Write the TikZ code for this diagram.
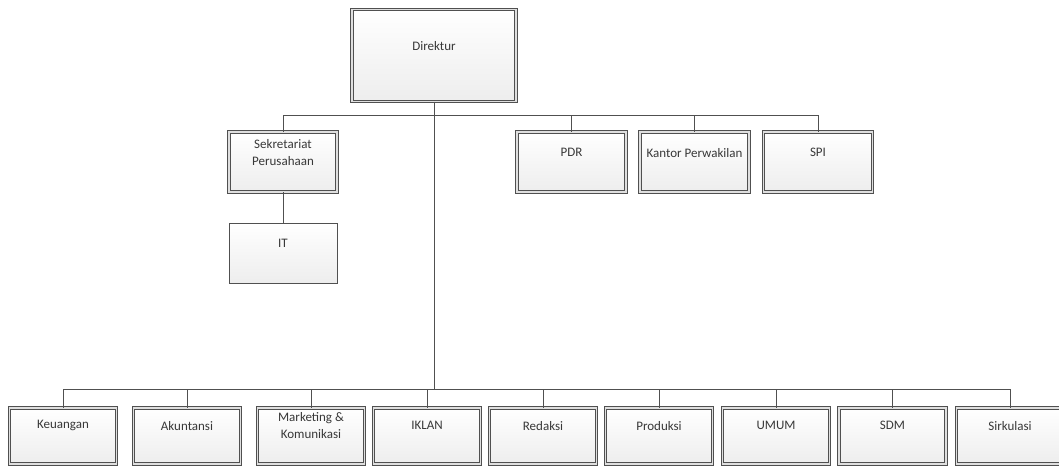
\documentclass[tikz,border=0pt]{standalone}
\usepackage{fontspec}
\setmainfont{Carlito}
\usepackage{tikz}
\usetikzlibrary{positioning}

\definecolor{linegray}{HTML}{505050}
\definecolor{textgray}{HTML}{383838}

\begin{document}
\begin{tikzpicture}[
    x=1pt, y=-1pt,
    font=\fontsize{13}{16.5}\selectfont,
    unit/.style={
        rectangle,
        draw=linegray,
        line width=0.9pt,
        double=gray!25,
        double distance=1.3pt,
        top color=white,
        bottom color=gray!14,
        inner sep=0pt
    },
    plainunit/.style={
        rectangle,
        draw=linegray,
        line width=1pt,
        top color=white,
        bottom color=gray!14,
        inner sep=0pt
    },
    txt/.style={
        anchor=center,
        align=center,
        text=textgray,
        yshift=-#1
    },
    link/.style={
        draw=linegray,
        line width=1pt
    }
]
\useasboundingbox (0,0) rectangle (1059,466);

% pimpinan
\node[unit, minimum width=164, minimum height=92, label={[txt=37pt]north:Direktur}] (dir) at (434,55.5) {};

% staf atas
\node[unit, minimum width=108, minimum height=60, label={[txt=21pt]north:Sekretariat\\Perusahaan}] (sek) at (283,162) {};
\node[plainunit, minimum width=108, minimum height=60, label={[txt=21pt]north:IT}] (it) at (283,253) {};
\node[unit, minimum width=109, minimum height=60, label={[txt=21pt]north:PDR}] (pdr) at (571.5,162) {};
\node[unit, minimum width=109, minimum height=60, label={[txt=21pt]north:Kantor Perwakilan}] (kantor) at (694.5,162) {};
\node[unit, minimum width=109, minimum height=60, label={[txt=21pt]north:SPI}] (spi) at (818,162) {};

% bagian bawah
\node[unit, minimum width=107, minimum height=56, label={[txt=18pt]north:Keuangan}] (keu) at (63,436) {};
\node[unit, minimum width=107, minimum height=56, label={[txt=18pt]north:Akuntansi}] (aku) at (187,436) {};
\node[unit, minimum width=107, minimum height=56, label={[txt=18pt]north:Marketing \&\\Komunikasi}] (mar) at (311,436) {};
\node[unit, minimum width=107, minimum height=56, label={[txt=18pt]north:IKLAN}] (ikl) at (427,436) {};
\node[unit, minimum width=107, minimum height=56, label={[txt=18pt]north:Redaksi}] (red) at (543,436) {};
\node[unit, minimum width=107, minimum height=56, label={[txt=18pt]north:Produksi}] (pro) at (659,436) {};
\node[unit, minimum width=107, minimum height=56, label={[txt=18pt]north:UMUM}] (umu) at (776,436) {};
\node[unit, minimum width=107, minimum height=56, label={[txt=18pt]north:SDM}] (sdm) at (892.5,436) {};
\node[unit, minimum width=107, minimum height=56, label={[txt=18pt]north:Sirkulasi}] (sir) at (1010,436) {};

\coordinate (topbus) at (0,115);
\coordinate (botbus) at (0,389);

% garis
\draw[link] (dir.south) -- (dir.south |- botbus);
\draw[link] (sek.north) -- (sek.north |- topbus) -- (spi.north |- topbus) -- (spi.north);
\draw[link] (pdr.north |- topbus) -- (pdr.north);
\draw[link] (kantor.north |- topbus) -- (kantor.north);
\draw[link] (sek.south) -- (it.north);

\draw[link] (keu.north) -- (keu.north |- botbus) -- (sir.north |- botbus) -- (sir.north);
\draw[link] (aku.north |- botbus) -- (aku.north);
\draw[link] (mar.north |- botbus) -- (mar.north);
\draw[link] (ikl.north |- botbus) -- (ikl.north);
\draw[link] (red.north |- botbus) -- (red.north);
\draw[link] (pro.north |- botbus) -- (pro.north);
\draw[link] (umu.north |- botbus) -- (umu.north);
\draw[link] (sdm.north |- botbus) -- (sdm.north);

\end{tikzpicture}
\end{document}
